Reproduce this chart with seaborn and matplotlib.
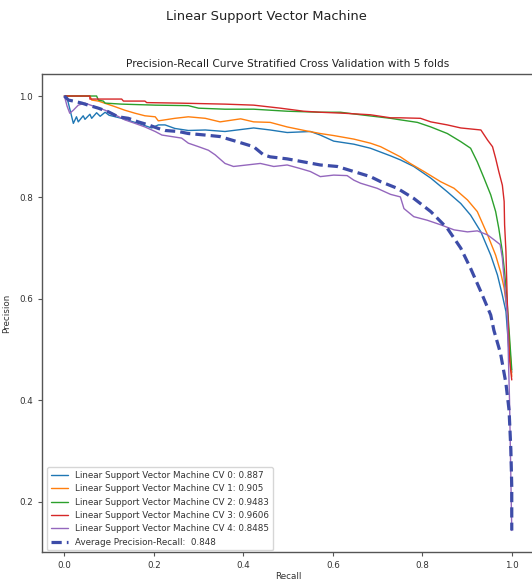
import numpy as np
import pandas as pd
import matplotlib
matplotlib.use("Agg")
import matplotlib.pyplot as plt
import seaborn as sns

sns.set_style("ticks")
plt.rcParams["font.family"] = ["DejaVu Sans"]

# ── data ─────────────────────────────────────────────────────────────────────
recall_cv0 = [0.0, 0.005, 0.02, 0.027, 0.031, 0.042, 0.046, 0.057, 0.061, 0.072, 0.08, 0.091, 0.1,
              0.128, 0.165, 0.195, 0.21, 0.225, 0.247, 0.277, 0.315, 0.359, 0.423, 0.46, 0.498,
              0.55, 0.572, 0.602, 0.647, 0.684, 0.729, 0.751, 0.781, 0.819, 0.856, 0.886, 0.908,
              0.931, 0.953, 0.968, 0.979, 0.987, 0.993, 1.0]
precision_cv0 = [1.0, 1.0, 0.946, 0.959, 0.949, 0.961, 0.954, 0.964, 0.956, 0.967, 0.96, 0.968, 0.962,
                 0.956, 0.946, 0.937, 0.943, 0.943, 0.936, 0.932, 0.933, 0.93, 0.937, 0.933, 0.928,
                 0.93, 0.923, 0.911, 0.905, 0.897, 0.882, 0.874, 0.861, 0.838, 0.811, 0.788, 0.765,
                 0.732, 0.686, 0.647, 0.607, 0.575, 0.505, 0.455]

recall_cv1 = [0.0, 0.057, 0.061, 0.076, 0.113, 0.135, 0.158, 0.18, 0.203, 0.21, 0.247, 0.277,
              0.315, 0.348, 0.394, 0.423, 0.46, 0.498, 0.542, 0.572, 0.602, 0.647, 0.684, 0.707,
              0.751, 0.773, 0.804, 0.841, 0.871, 0.901, 0.923, 0.946, 0.964, 0.975, 0.983, 0.99, 1.0]
precision_cv1 = [1.0, 1.0, 0.992, 0.99, 0.979, 0.972, 0.966, 0.961, 0.959, 0.951, 0.956, 0.959,
                 0.956, 0.949, 0.955, 0.949, 0.948, 0.939, 0.931, 0.926, 0.922, 0.915, 0.907, 0.9,
                 0.88, 0.867, 0.851, 0.831, 0.818, 0.795, 0.772, 0.726, 0.686, 0.653, 0.621, 0.575, 0.447]

recall_cv2 = [0.0, 0.072, 0.076, 0.087, 0.091, 0.128, 0.203, 0.277, 0.3, 0.359, 0.423, 0.498,
              0.572, 0.617, 0.662, 0.729, 0.751, 0.789, 0.819, 0.856, 0.886, 0.908, 0.923, 0.938,
              0.953, 0.964, 0.971, 0.979, 0.984, 0.989, 0.994, 1.0]
precision_cv2 = [1.0, 1.0, 0.992, 0.99, 0.986, 0.984, 0.982, 0.981, 0.976, 0.974, 0.974, 0.97,
                 0.968, 0.968, 0.963, 0.956, 0.953, 0.948, 0.939, 0.926, 0.91, 0.897, 0.87, 0.838,
                 0.805, 0.772, 0.739, 0.693, 0.653, 0.601, 0.538, 0.46]

recall_cv3 = [0.0, 0.057, 0.057, 0.128, 0.132, 0.18, 0.184, 0.255, 0.359, 0.423, 0.483, 0.535,
              0.572, 0.625, 0.684, 0.729, 0.751, 0.796, 0.819, 0.856, 0.886, 0.931, 0.946, 0.957,
              0.964, 0.971, 0.979, 0.983, 0.984, 0.987, 0.99, 0.995, 1.0]
precision_cv3 = [1.0, 1.0, 0.994, 0.994, 0.99, 0.99, 0.987, 0.986, 0.984, 0.982, 0.976, 0.97,
                 0.968, 0.966, 0.963, 0.957, 0.957, 0.956, 0.949, 0.943, 0.937, 0.933, 0.913, 0.9,
                 0.877, 0.851, 0.824, 0.792, 0.746, 0.693, 0.594, 0.48, 0.44]

recall_cv4 = [0.0, 0.006, 0.012, 0.02, 0.031, 0.046, 0.068, 0.091, 0.113, 0.135, 0.158, 0.18,
              0.203, 0.218, 0.24, 0.262, 0.277, 0.3, 0.322, 0.337, 0.359, 0.378, 0.408, 0.438,
              0.468, 0.498, 0.527, 0.55, 0.572, 0.602, 0.632, 0.647, 0.662, 0.699, 0.729, 0.751,
              0.759, 0.781, 0.811, 0.841, 0.871, 0.901, 0.923, 0.946, 0.961, 0.974, 0.979, 0.984,
              0.99, 0.995, 1.0]
precision_cv4 = [1.0, 0.98, 0.966, 0.972, 0.982, 0.986, 0.979, 0.972, 0.963, 0.953, 0.946, 0.939,
                 0.93, 0.923, 0.92, 0.917, 0.907, 0.9, 0.893, 0.884, 0.867, 0.861, 0.864, 0.867,
                 0.861, 0.864, 0.857, 0.851, 0.841, 0.844, 0.843, 0.834, 0.828, 0.818, 0.806, 0.801,
                 0.778, 0.762, 0.755, 0.746, 0.736, 0.732, 0.734, 0.726, 0.716, 0.707, 0.68, 0.627,
                 0.568, 0.4, 0.143]

recall_avg = [0.0, 0.009, 0.02, 0.039, 0.053, 0.076, 0.098, 0.12, 0.143, 0.165, 0.188, 0.21,
              0.225, 0.255, 0.277, 0.315, 0.348, 0.386, 0.423, 0.445, 0.46, 0.498, 0.535, 0.572,
              0.61, 0.647, 0.684, 0.707, 0.744, 0.781, 0.819, 0.856, 0.886, 0.908, 0.931, 0.953,
              0.96, 0.975, 0.987, 0.994, 0.998, 1.0, 1.0]
precision_avg = [1.0, 0.992, 0.99, 0.986, 0.982, 0.976, 0.969, 0.959, 0.956, 0.949, 0.943, 0.936,
                 0.932, 0.93, 0.926, 0.923, 0.92, 0.91, 0.9, 0.884, 0.88, 0.876, 0.87, 0.864,
                 0.861, 0.851, 0.841, 0.831, 0.818, 0.798, 0.772, 0.739, 0.7, 0.66, 0.614, 0.568,
                 0.538, 0.492, 0.433, 0.38, 0.302, 0.229, 0.143]

fold_scores = ["0.887", "0.905", "0.9483", "0.9606", "0.8485"]
avg_score = "0.848"
model_name = "Linear Support Vector Machine"

fold_recalls = [recall_cv0, recall_cv1, recall_cv2, recall_cv3, recall_cv4]
fold_precisions = [precision_cv0, precision_cv1, precision_cv2, precision_cv3, precision_cv4]

# ── figure ───────────────────────────────────────────────────────────────────
text_col = "#333333"
fig = plt.figure(figsize=(5.32, 5.83), dpi=100)
ax = fig.add_axes([0.079, 0.0527, 0.925, 0.820])

colors = sns.color_palette("tab10", 5)
for i, (rec, prec) in enumerate(zip(fold_recalls, fold_precisions)):
    d = pd.DataFrame({"Recall": rec, "Precision": prec})
    sns.lineplot(data=d, x="Recall", y="Precision", sort=False, estimator=None,
                 color=colors[i], lw=1.0, ax=ax,
                 label=f"{model_name} CV {i}: {fold_scores[i]}")

d_avg = pd.DataFrame({"Recall": recall_avg, "Precision": precision_avg})
sns.lineplot(data=d_avg, x="Recall", y="Precision", sort=False, estimator=None,
             color="#3d4ca8", lw=2.3, ax=ax, label=f"Average Precision-Recall:  {avg_score}")
ax.lines[-1].set_linestyle((0, (3.2, 1.6)))

ax.set_xlim(-0.05, 1.05)
ax.set_ylim(0.1, 1.043)
ax.set_xticks([0.0, 0.2, 0.4, 0.6, 0.8, 1.0])
ax.set_yticks([0.2, 0.4, 0.6, 0.8, 1.0])
ax.tick_params(labelsize=6.3, colors="#555555", labelcolor=text_col, length=3, width=0.8)
for s in ax.spines.values():
    s.set_color("#555555")
    s.set_linewidth(1.0)

ax.set_xlabel("Recall", fontsize=6.3, color=text_col, labelpad=1.5)
ax.set_ylabel("Precision", fontsize=6.3, color=text_col, labelpad=6)
ax.set_title("Precision-Recall Curve Stratified Cross Validation with 5 folds",
             fontsize=7.6, color="#222222", pad=5)
fig.suptitle(model_name, fontsize=9.4, color="#222222", y=0.971, va="center")

leg = ax.legend(loc="lower left", bbox_to_anchor=(0.011, 0.004), borderaxespad=0,
                fontsize=6.3, frameon=True, handlelength=2.0)
for t in leg.get_texts():
    t.set_color(text_col)

fig.savefig("out.png", dpi=100)
